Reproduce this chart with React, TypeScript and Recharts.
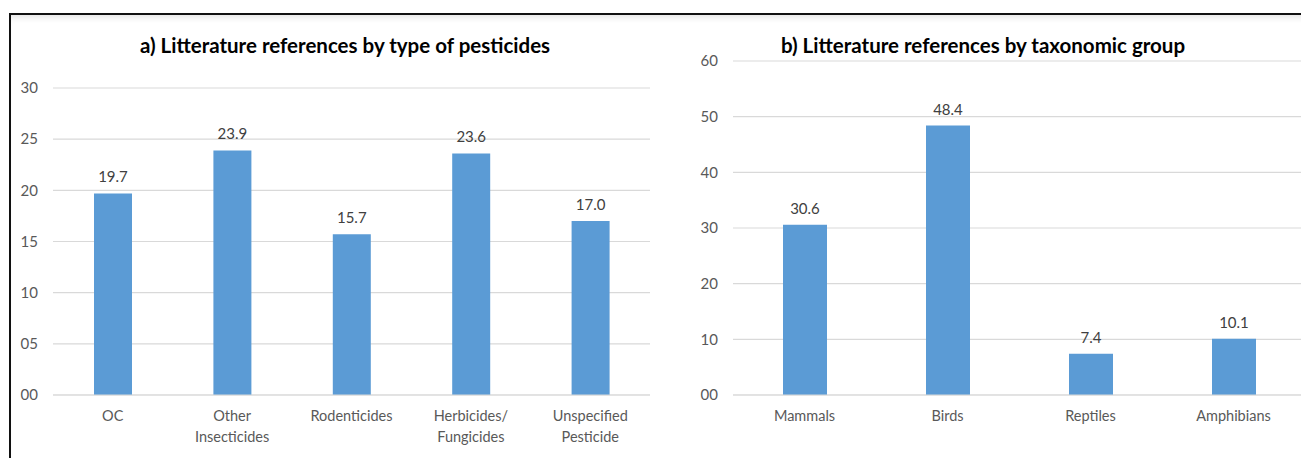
import React from 'react';
import { BarChart, Bar, XAxis, YAxis, CartesianGrid, LabelList } from 'recharts';

const pesticideTypes = ['OC', 'Other\nInsecticides', 'Rodenticides', 'Herbicides/\nFungicides', 'Unspecified\nPesticide'];
const pesticideShares = [19.7, 23.9, 15.7, 23.6, 17.0];
const pesticideTicks = [0, 5, 10, 15, 20, 25, 30];

const taxonGroups = ['Mammals', 'Birds', 'Reptiles', 'Amphibians'];
const taxonShares = [30.6, 48.4, 7.4, 10.1];
const taxonTicks = [0, 10, 20, 30, 40, 50, 60];

const FONT = 'Lato, "Open Sans", sans-serif';
const BAR = '#5B9BD5';
const GRID = '#d9d9d9';

const pad2 = (v: number) => String(v).padStart(2, '0');

const CategoryTick = (props: any) => {
  const { x, y, payload } = props;
  const lines = String(payload.value).split('\n');
  return (
    <text x={x} y={y} textAnchor="middle" fill="#595959" fontSize={14.5} fontFamily={FONT}>
      {lines.map((l, i) => (
        <tspan key={i} x={x} dy={i === 0 ? 18 : 21}>{l}</tspan>
      ))}
    </text>
  );
};

const Panel = ({
  cats, values, ticks, max, width, marginTop, marginRight, yWidth, barSize,
}: {
  cats: string[]; values: number[]; ticks: number[]; max: number; width: number;
  marginTop: number; marginRight: number; yWidth: number; barSize: number;
}) => {
  const data = cats.map((c, i) => ({ name: c, value: values[i] }));
  return (
    <BarChart width={width} height={458} data={data}
      margin={{ top: marginTop, right: marginRight, left: 0, bottom: 13 }}>
      <CartesianGrid vertical={false} stroke={GRID} strokeWidth={1.2} />
      <XAxis dataKey="name" axisLine={{ stroke: GRID }} tickLine={false} height={50}
        tickMargin={2} interval={0} tick={<CategoryTick />} />
      <YAxis domain={[0, max]} ticks={ticks} width={yWidth} axisLine={false} tickLine={false}
        tickMargin={9} tickFormatter={pad2}
        tick={{ fill: '#595959', fontSize: 15, fontFamily: FONT }} />
      <Bar dataKey="value" fill={BAR} barSize={barSize} isAnimationActive={false}>
        <LabelList dataKey="value" position="top" offset={11}
          formatter={(v: any) => Number(v).toFixed(1)}
          style={{ fill: '#404040', fontSize: 15, fontFamily: FONT }} />
      </Bar>
    </BarChart>
  );
};

const titleStyle: React.CSSProperties = {
  position: 'absolute', top: 33, fontFamily: FONT, fontWeight: 700, fontSize: 20.5,
  color: '#000', whiteSpace: 'nowrap', transform: 'translateX(-50%)', lineHeight: '24px',
};

export default function App() {
  return (
    <div style={{ position: 'fixed', left: 0, top: 0, width: 1301, height: 458, overflow: 'hidden', background: '#fff' }}>
      <div style={{
        position: 'absolute', left: 9, top: 13, width: 1310, height: 460,
        borderTop: '2px solid #111', borderLeft: '2px solid #111',
        boxShadow: 'inset 0 7px 7px -5px rgba(0,0,0,0.12)',
      }} />
      <div style={{ position: 'absolute', left: 0, top: 0 }}>
        <Panel cats={pesticideTypes} values={pesticideShares} ticks={pesticideTicks} max={30}
          width={660} marginTop={88} marginRight={10} yWidth={53} barSize={38} />
      </div>
      <div style={{ position: 'absolute', left: 660, top: 0 }}>
        <Panel cats={taxonGroups} values={taxonShares} ticks={taxonTicks} max={60}
          width={650} marginTop={61} marginRight={5} yWidth={73} barSize={44} />
      </div>
      <div style={{ ...titleStyle, left: 345 }}>a) Litterature references by type of pesticides</div>
      <div style={{ ...titleStyle, left: 983 }}>b) Litterature references by taxonomic group</div>
    </div>
  );
}
